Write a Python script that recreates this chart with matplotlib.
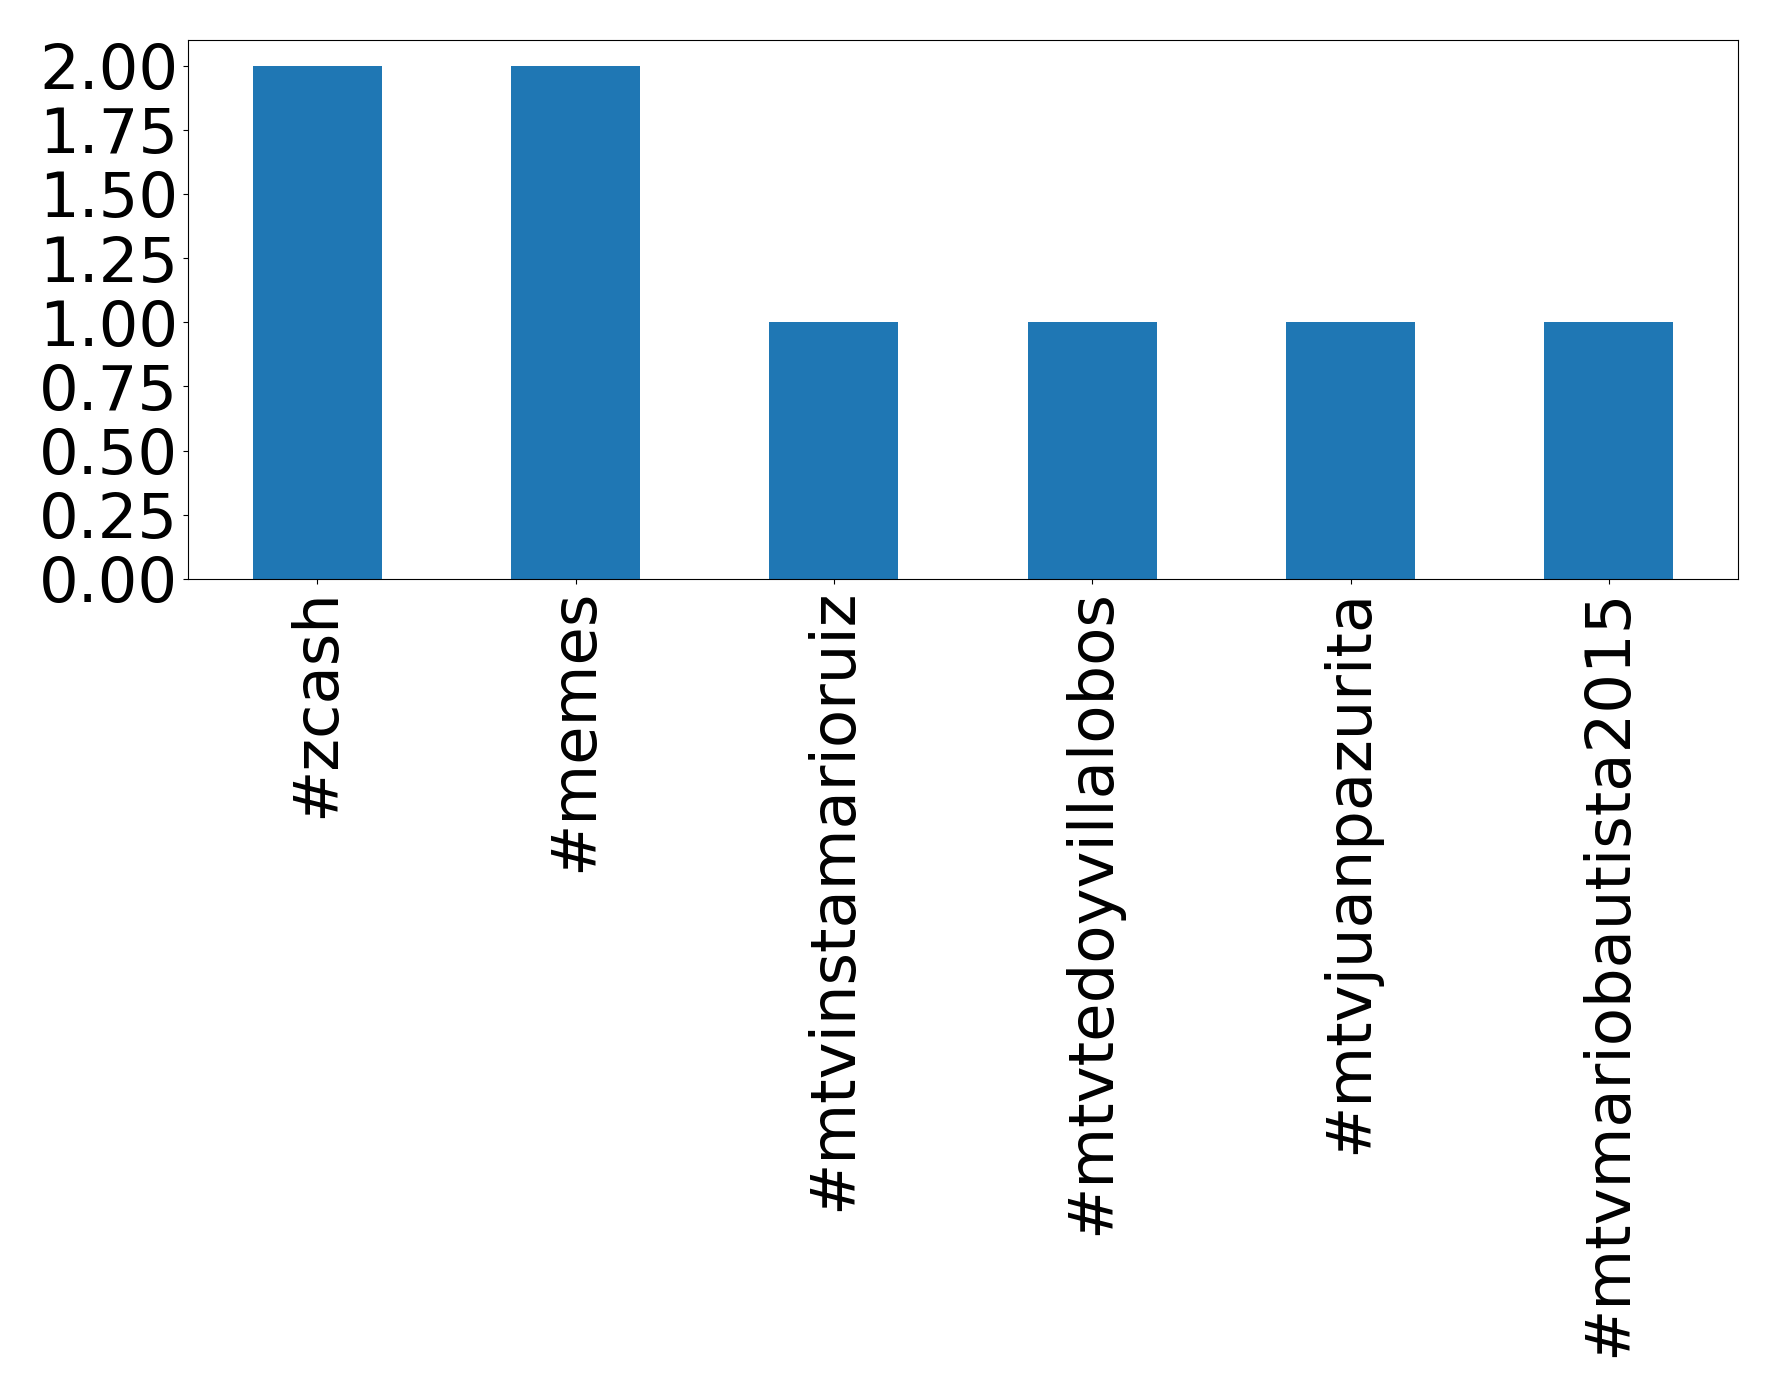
import matplotlib
matplotlib.use("Agg")
import matplotlib.pyplot as plt
import pandas as pd

hashtags = ["#zcash", "#memes", "#mtvinstamarioruiz", "#mtvtedoyvillalobos",
            "#mtvjuanpazurita", "#mtvmariobautista2015"]
counts = [2, 2, 1, 1, 1, 1]

s = pd.Series(counts, index=hashtags)

fig = plt.figure(figsize=(17.78, 13.97), dpi=100)
ax = fig.add_axes([188 / 1778, 1 - 579 / 1397, (1738 - 188) / 1778, (579 - 40) / 1397])
s.plot(kind="bar", ax=ax, color="#1f77b4", fontsize=45)
ax.set_yticks([0, 0.25, 0.5, 0.75, 1.0, 1.25, 1.5, 1.75, 2.0])
ax.set_yticklabels([f"{v:.2f}" for v in ax.get_yticks()])

fig.savefig("out.png", dpi=100)
